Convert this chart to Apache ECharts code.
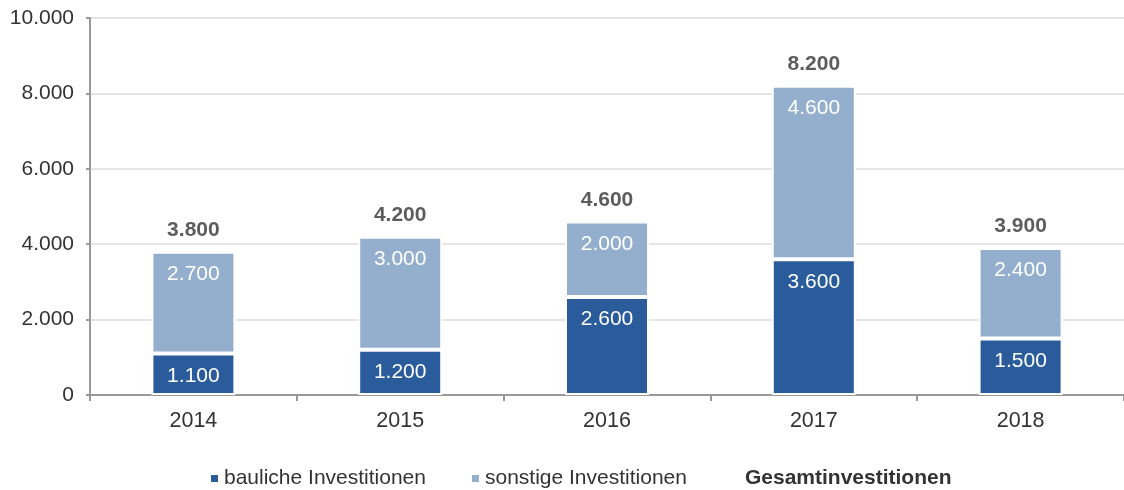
<!DOCTYPE html>
<html>
<head>
<meta charset="utf-8">
<script src="https://cdn.jsdelivr.net/npm/echarts@6/dist/echarts.min.js"></script>
<style>
html,body{margin:0;padding:0;background:#fff;}
#c{width:1124px;height:490px;}
</style>
</head>
<body>
<div id="c"></div>
<script>
const categories = ['2014', '2015', '2016', '2017', '2018'];
const baulich = [1100, 1200, 2600, 3600, 1500];
const sonstige = [2700, 3000, 2000, 4600, 2400];
const gesamt = [3800, 4200, 4600, 8200, 3900];
const seriesNames = ['bauliche Investitionen', 'sonstige Investitionen', 'Gesamtinvestitionen'];

const fmt = v => String(v).replace(/\B(?=(\d{3})+(?!\d))/g, '.');
const FONT = '"Liberation Sans", Arial, sans-serif';

const chart = echarts.init(document.getElementById('c'), null, {renderer: 'canvas'});
const innerLabel = {
  show: true, position: 'insideTop', distance: 12,
  color: '#ffffff', fontSize: 21, fontFamily: FONT,
  formatter: p => fmt(p.value)
};
chart.setOption({
  animation: false,
  textStyle: {fontFamily: FONT},
  grid: {left: 90, top: 18, width: 1040, bottom: 95, containLabel: false},
  legend: {
    top: 468, left: 209, padding: 0, itemGap: 44, itemWidth: 9, itemHeight: 9,
    textStyle: {fontSize: 21, color: '#333', fontFamily: FONT},
    data: [
      {name: seriesNames[0], icon: 'rect'},
      {name: seriesNames[1], icon: 'rect'},
      {name: seriesNames[2], icon: 'none', textStyle: {fontWeight: 'bold', fontSize: 21, color: '#333'}}
    ],
    selectedMode: false
  },
  xAxis: {
    type: 'category', data: categories,
    axisLine: {lineStyle: {color: '#999', width: 2}},
    axisTick: {show: true, length: 6, lineStyle: {color: '#999', width: 2}},
    axisLabel: {fontSize: 21.5, color: '#333', margin: 15, fontFamily: FONT}
  },
  yAxis: {
    type: 'value', min: 0, max: 10000, interval: 2000,
    axisLine: {show: true, lineStyle: {color: '#999', width: 2}},
    axisTick: {show: true, length: 4, lineStyle: {color: '#999', width: 2}},
    axisLabel: {fontSize: 21, color: '#333', margin: 16, formatter: v => fmt(v), fontFamily: FONT},
    splitLine: {lineStyle: {color: '#dcdcdc', width: 1.5}}
  },
  series: [
    {
      name: seriesNames[0], type: 'bar', stack: 'a', data: baulich, barWidth: 84,
      itemStyle: {color: '#2A5B9B', borderColor: '#fff', borderWidth: 2},
      label: innerLabel
    },
    {
      name: seriesNames[1], type: 'bar', stack: 'a', data: sonstige,
      itemStyle: {color: '#94AFCD', borderColor: '#fff', borderWidth: 2},
      label: innerLabel
    },
    {
      name: seriesNames[2], type: 'scatter', data: gesamt, symbolSize: 0,
      itemStyle: {color: 'transparent'},
      label: {
        show: true, position: 'top', distance: 11,
        color: '#333', fontWeight: 'bold', fontSize: 21, fontFamily: FONT,
        formatter: p => fmt(p.value)
      },
      z: 5
    }
  ]
});
</script>
</body>
</html>
